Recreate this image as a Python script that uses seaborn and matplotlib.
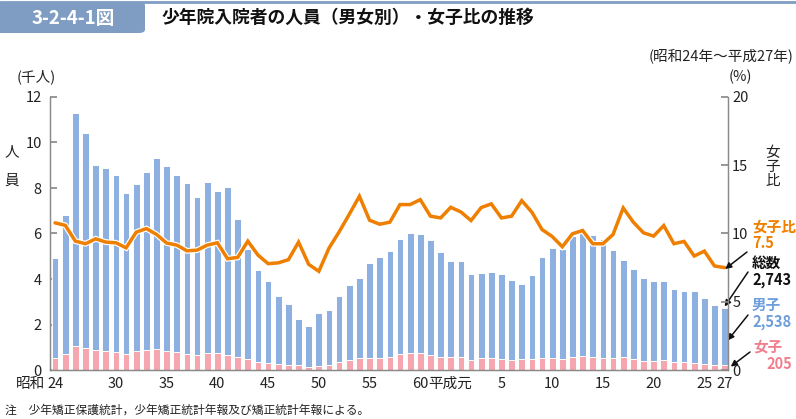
import numpy as np
import pandas as pd
import matplotlib
matplotlib.use("Agg")
import matplotlib.pyplot as plt
import matplotlib.patheffects as pe
from matplotlib.patches import FancyBboxPatch
from matplotlib.lines import Line2D
import seaborn as sns

# 昭和24年～63年, 平成元年～27年
years = [f"S{y}" for y in range(24, 64)] + [f"H{y}" for y in range(1, 28)]

# 総数 (千人)
total = [4.94, 6.83, 11.30, 10.41, 9.00, 8.86, 8.57, 7.79, 8.19, 8.70,
         9.30, 8.96, 8.58, 8.20, 7.60, 8.26, 7.85, 8.04, 6.62, 5.31,
         4.39, 3.93, 3.25, 2.89, 2.24, 1.92, 2.51, 2.63, 3.25, 3.74,
         4.04, 4.69, 4.97, 5.22, 5.75, 6.02, 5.99, 5.72, 5.18, 4.80,
         4.77, 4.20, 4.28, 4.31, 4.20, 3.96, 3.80, 4.18, 4.96, 5.35,
         5.34, 5.89, 6.04, 5.92, 5.77, 5.28, 4.85, 4.44, 4.04, 3.93,
         3.93, 3.58, 3.46, 3.46, 3.16, 2.85, 2.743]

# 女子 (千人)
female = [0.52, 0.71, 1.07, 0.95, 0.86, 0.83, 0.79, 0.70, 0.82, 0.88,
          0.91, 0.83, 0.78, 0.71, 0.66, 0.75, 0.73, 0.65, 0.55, 0.50,
          0.37, 0.31, 0.25, 0.23, 0.21, 0.15, 0.18, 0.23, 0.33, 0.43,
          0.51, 0.51, 0.53, 0.57, 0.70, 0.73, 0.75, 0.64, 0.58, 0.57,
          0.55, 0.46, 0.51, 0.52, 0.47, 0.45, 0.47, 0.48, 0.51, 0.52,
          0.48, 0.59, 0.62, 0.55, 0.53, 0.52, 0.58, 0.48, 0.41, 0.39,
          0.42, 0.33, 0.33, 0.29, 0.27, 0.22, 0.205]

# 女子比 (%)
ratio = [10.78, 10.6, 9.44, 9.25, 9.61, 9.37, 9.32, 8.95, 10.1, 10.36,
         9.93, 9.3, 9.15, 8.73, 8.78, 9.15, 9.32, 8.15, 8.25, 9.44,
         8.42, 7.79, 7.85, 8.08, 9.37, 7.74, 7.23, 8.93, 10.12, 11.41,
         12.73, 10.97, 10.68, 10.83, 12.12, 12.12, 12.48, 11.27, 11.14, 11.92,
         11.58, 10.95, 11.9, 12.17, 11.14, 11.27, 12.41, 11.56, 10.29, 9.78,
         9.03, 9.98, 10.22, 9.25, 9.25, 9.93, 11.87, 10.83, 10.05, 9.81,
         10.58, 9.25, 9.42, 8.35, 8.71, 7.62, 7.5]

tick_pos = [0, 6, 11, 16, 21, 26, 31, 36, 44, 49, 54, 59, 64, 66]
tick_lab = ["24", "30", "35", "40", "45", "50", "55", "60",
            "5", "10", "15", "20", "25", "27"]

BLUE = "#8DB0E1"
PINK = "#F5A6AF"
ORANGE = "#EF7F00"
GRAY = "#8a8a8a"
HEAD = "#7F9DC2"

sns.set_theme(style="white")
plt.rcParams["font.family"] = ["Noto Sans CJK JP", "DejaVu Sans"]

df = pd.DataFrame({"year": years, "total": total, "female": female, "ratio": ratio})

W, H = 796, 419
fig = plt.figure(figsize=(W / 100, H / 100), dpi=100)
ax = fig.add_axes([50 / W, 1 - 370 / H, 678 / W, 273 / H])

sns.barplot(data=df, x="year", y="total", order=years, color=BLUE, saturation=1,
            width=0.66, edgecolor="white", linewidth=0.7, errorbar=None, ax=ax)
sns.barplot(data=df, x="year", y="female", order=years, color=PINK, saturation=1,
            width=0.66, edgecolor="white", linewidth=0.7, errorbar=None, ax=ax)

ax2 = ax.twinx()
ax2.plot(np.arange(len(years)), df["ratio"], color=ORANGE, lw=2.5,
         solid_joinstyle="miter",
         path_effects=[pe.Stroke(linewidth=4.2, foreground="white"), pe.Normal()])

ax.set_xlim(-0.5, 66.33)
ax.set_ylim(0, 12)
ax2.set_ylim(0, 20)
ax.set_yticks(range(0, 13, 2))
ax2.set_yticks(range(0, 21, 5))
ax.set_xticks(tick_pos)
ax.set_xticklabels(tick_lab)
ax.set_xlabel("")
ax.set_ylabel("")

for a in (ax, ax2):
    a.spines["top"].set_visible(False)
    for s in ("left", "right", "bottom"):
        a.spines[s].set_color(GRAY)
        a.spines[s].set_linewidth(0.9)
ax.tick_params(axis="y", direction="in", length=5, color=GRAY, pad=6, labelsize=10.5, labelcolor="#222")
ax2.tick_params(axis="y", direction="in", length=5, color=GRAY, pad=3, labelsize=10.5, labelcolor="#222")
ax.tick_params(axis="x", length=0, pad=5, labelsize=10.5, labelcolor="#222")

fig.text(428 / W, 1 - 384 / H, "平成元", ha="left", va="center", fontsize=10.5, color="#222")
fig.text(45 / W, 1 - 384 / H, "昭和", ha="right", va="center", fontsize=10.5, color="#222")

# header
fig.add_artist(Line2D([0, 1], [1 - 2 / H, 1 - 2 / H], color=HEAD, lw=2))
fig.add_artist(FancyBboxPatch((-10 / W, 1 - 33 / H), 155 / W, 31 / H,
                              boxstyle="round,pad=0,rounding_size=0.008",
                              fc=HEAD, ec="none", transform=fig.transFigure))
fig.text(73 / W, 1 - 18 / H, "3-2-4-1図", ha="center", va="center",
         fontsize=13.5, color="white", fontweight="bold")
fig.text(162 / W, 1 - 18 / H, "少年院入院者の人員（男女別）・女子比の推移",
         ha="left", va="center", fontsize=12.8, fontweight="bold", color="#111")
fig.text(793 / W, 1 - 57 / H, "(昭和24年～平成27年)", ha="right", va="center",
         fontsize=10.5, color="#222")

fig.text(36 / W, 1 - 77 / H, "(千人)", ha="center", va="center", fontsize=10.5, color="#222")
fig.text(740 / W, 1 - 77 / H, "(%)", ha="center", va="center", fontsize=10.5, color="#222")
fig.text(12 / W, 1 - 152 / H, "人", ha="center", va="center", fontsize=10.5, color="#222")
fig.text(12 / W, 1 - 181 / H, "員", ha="center", va="center", fontsize=10.5, color="#222")
fig.text(773 / W, 1 - 167 / H, "女\n子\n比", ha="center", va="center", fontsize=10.5,
         color="#222", linespacing=1.0)

fig.text(5 / W, 1 - 410 / H, "注　少年矯正保護統計，少年矯正統計年報及び矯正統計年報による。",
         ha="left", va="center", fontsize=8.5, color="#222")

# right-side labels
MALE_C = "#6E9EDB"
FEM_C = "#F07F8E"
fs = 10.5
fig.text(752 / W, 1 - 226 / H, "女子比", color=ORANGE, fontsize=fs, fontweight="bold", va="center")
fig.text(752 / W, 1 - 243 / H, f"{ratio[-1]:.1f}", color=ORANGE, fontsize=fs, fontweight="bold", va="center")
fig.text(752 / W, 1 - 263 / H, "総数", color="#111", fontsize=fs, fontweight="bold", va="center")
fig.text(752 / W, 1 - 280 / H, f"{round(total[-1] * 1000):,}", color="#111", fontsize=fs, fontweight="bold", va="center")
fig.text(752 / W, 1 - 305 / H, "男子", color=MALE_C, fontsize=fs, fontweight="bold", va="center")
fig.text(752 / W, 1 - 322 / H, f"{round((total[-1] - female[-1]) * 1000):,}", color=MALE_C, fontsize=fs, fontweight="bold", va="center")
fig.text(753 / W, 1 - 346 / H, "女子", color=FEM_C, fontsize=fs, fontweight="bold", va="center")
fig.text(766 / W, 1 - 364 / H, f"{round(female[-1] * 1000)}", color=FEM_C, fontsize=fs, fontweight="bold", va="center")

arrow = dict(arrowstyle="-|>", color="#111", lw=1.1, mutation_scale=9, shrinkA=0, shrinkB=0)
last = len(years) - 1
ax2.annotate("", xy=(last + 0.05, ratio[-1] - 0.1), xytext=(747 / W, 1 - 252 / H),
             textcoords="figure fraction", arrowprops=arrow, annotation_clip=False)
ax.annotate("", xy=(last, total[-1] + 0.05), xytext=(748 / W, 1 - 272 / H),
            textcoords="figure fraction", arrowprops=arrow, annotation_clip=False)
ax.annotate("", xy=(last + 0.3, 1.3), xytext=(748 / W, 1 - 315 / H),
            textcoords="figure fraction", arrowprops=arrow, annotation_clip=False)
ax.annotate("", xy=(last + 0.6, 0.15), xytext=(750 / W, 1 - 352 / H),
            textcoords="figure fraction", arrowprops=arrow, annotation_clip=False)

fig.savefig("out.png", dpi=100)
